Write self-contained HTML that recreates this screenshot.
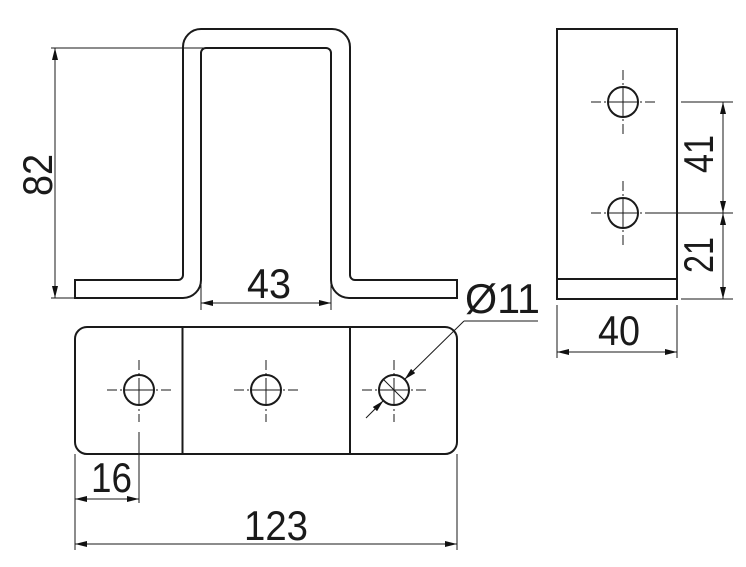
<!DOCTYPE html>
<html><head><meta charset="utf-8"><style>html,body{margin:0;padding:0;background:#fff}svg{display:block}</style></head>
<body>
<svg width="746" height="567" viewBox="0 0 746 567" xmlns="http://www.w3.org/2000/svg">
<defs>
<marker id="a" viewBox="0 0 12 6" refX="12" refY="3" markerWidth="12" markerHeight="6" orient="auto-start-reverse" markerUnits="userSpaceOnUse"><path d="M0,0 L12,3 L0,6 z" fill="#111"/></marker>
</defs>
<g fill="none" stroke="#1a1a1a" stroke-width="2">
<path d="M75,298 L183,298 A18,18 0 0 0 201,280 L201,53 A5,5 0 0 1 206,48 L326,48 A5,5 0 0 1 331,53 L331,280 A18,18 0 0 0 349,298 L457,298 L457,280 L355,280 A5,5 0 0 1 350,275 L350,47 A18,18 0 0 0 332,29 L201,29 A18,18 0 0 0 183,47 L183,275 A5,5 0 0 1 178,280 L75,280 Z"/>
<rect x="75" y="327" width="382" height="127" rx="12"/>
<line x1="182.5" y1="327" x2="182.5" y2="454"/>
<line x1="350" y1="327" x2="350" y2="454"/>
<circle cx="139" cy="390" r="15"/><circle cx="266" cy="390" r="15"/><circle cx="394" cy="390" r="15"/>
<rect x="557" y="29" width="120" height="270"/>
<line x1="557" y1="279" x2="677" y2="279"/>
<circle cx="623" cy="102" r="15"/><circle cx="623" cy="213" r="15"/>
</g>
<g stroke="#1a1a1a" stroke-width="1" fill="none">
<line x1="51" y1="48" x2="205" y2="48"/>
<line x1="51" y1="298" x2="75" y2="298"/>
<line x1="55" y1="48" x2="55" y2="298" marker-start="url(#a)" marker-end="url(#a)"/>
<line x1="201" y1="285" x2="201" y2="310"/><line x1="331" y1="285" x2="331" y2="310"/>
<line x1="201" y1="303" x2="331" y2="303" marker-start="url(#a)" marker-end="url(#a)"/>
<g stroke-dasharray="10,3,2,3">
<line x1="107" y1="390" x2="171" y2="390"/><line x1="139" y1="360" x2="139" y2="422"/>
<line x1="234" y1="390" x2="298" y2="390"/><line x1="266" y1="360" x2="266" y2="422"/>
<line x1="362" y1="390" x2="426" y2="390"/><line x1="394" y1="360" x2="394" y2="422"/>
<line x1="591" y1="102" x2="655" y2="102"/><line x1="623" y1="70" x2="623" y2="134"/>
<line x1="591" y1="213" x2="655" y2="213"/><line x1="623" y1="181" x2="623" y2="245"/>
</g>
<line x1="139" y1="378" x2="139" y2="402"/><line x1="127" y1="390" x2="151" y2="390"/>
<line x1="266" y1="378" x2="266" y2="402"/><line x1="254" y1="390" x2="278" y2="390"/>
<line x1="394" y1="378" x2="394" y2="402"/><line x1="382" y1="390" x2="406" y2="390"/>
<line x1="623" y1="90" x2="623" y2="114"/><line x1="611" y1="102" x2="635" y2="102"/>
<line x1="623" y1="201" x2="623" y2="225"/><line x1="611" y1="213" x2="635" y2="213"/>
<line x1="139" y1="432" x2="139" y2="503"/>
<line x1="75" y1="454" x2="75" y2="550"/><line x1="457" y1="454" x2="457" y2="550"/>
<line x1="75" y1="499" x2="139" y2="499" marker-start="url(#a)" marker-end="url(#a)"/>
<line x1="75" y1="544" x2="457" y2="544" marker-start="url(#a)" marker-end="url(#a)"/>
<line x1="538" y1="321" x2="464" y2="321"/>
<line x1="464" y1="321" x2="404.6" y2="379.4" marker-end="url(#a)"/>
<line x1="366" y1="418" x2="383.4" y2="400.6" marker-end="url(#a)"/>
<line x1="383" y1="379" x2="405" y2="401"/>
<line x1="681" y1="102" x2="733" y2="102"/>
<line x1="655" y1="213" x2="733" y2="213"/>
<line x1="681" y1="299" x2="733" y2="299"/>
<line x1="723" y1="102" x2="723" y2="213" marker-start="url(#a)" marker-end="url(#a)"/>
<line x1="723" y1="213" x2="723" y2="299" marker-start="url(#a)" marker-end="url(#a)"/>
<line x1="557" y1="305" x2="557" y2="358"/><line x1="677" y1="305" x2="677" y2="358"/>
<line x1="557" y1="352" x2="677" y2="352" marker-start="url(#a)" marker-end="url(#a)"/>
</g>
<g font-family="Liberation Sans, sans-serif" font-size="42" fill="#1a1a1a" lengthAdjust="spacingAndGlyphs">
<text x="247" y="298" textLength="44" lengthAdjust="spacingAndGlyphs">43</text>
<text x="91" y="492" textLength="41" lengthAdjust="spacingAndGlyphs">16</text>
<text x="244" y="540" textLength="64" lengthAdjust="spacingAndGlyphs">123</text>
<text x="465" y="313" textLength="75" lengthAdjust="spacingAndGlyphs">Ø11</text>
<text x="598" y="345" textLength="42" lengthAdjust="spacingAndGlyphs">40</text>
<text transform="translate(52,196) rotate(-90)" textLength="42" lengthAdjust="spacingAndGlyphs">82</text>
<text transform="translate(713,173) rotate(-90)" textLength="38" lengthAdjust="spacingAndGlyphs">41</text>
<text transform="translate(713,273) rotate(-90)" textLength="36" lengthAdjust="spacingAndGlyphs">21</text>
</g>
</svg>
</body></html>
